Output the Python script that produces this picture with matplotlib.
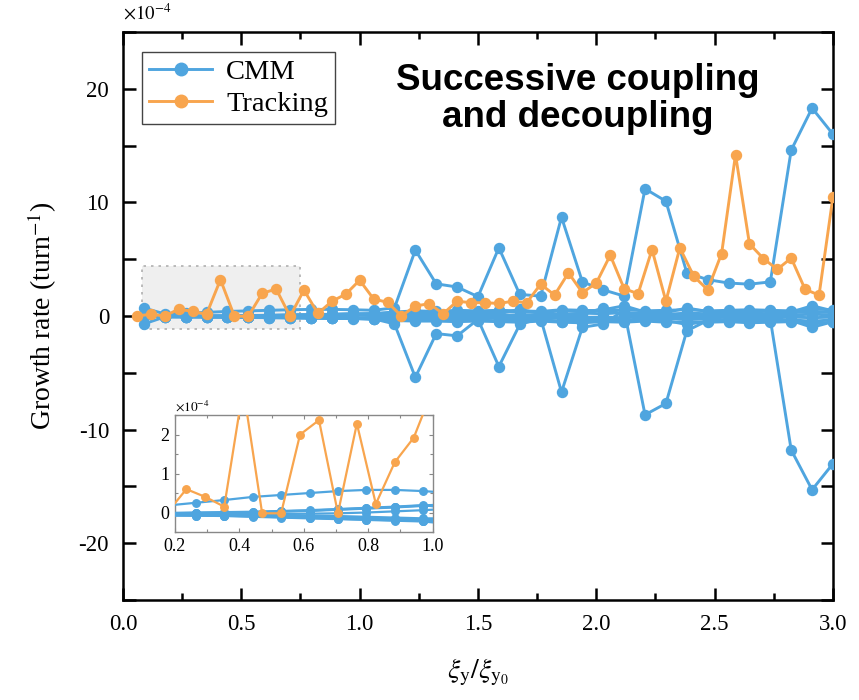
import numpy as np
import matplotlib
matplotlib.use("Agg")
import matplotlib.pyplot as plt
from matplotlib.patches import Rectangle
from matplotlib.ticker import MultipleLocator

plt.rcParams['font.family'] = ['Liberation Serif', 'DejaVu Serif']
plt.rcParams['mathtext.fontset'] = 'stix'

# CMM modes sampled at k*3/34, tracking sampled at k/17 (growth rate, x1e-4)
x_cmm = np.linspace(3 / 34, 3.0, 34)
x_trk = np.linspace(1 / 17, 3.0, 51)

cmm_upper = [0.7, 0.18, 0.25, 0.32, 0.40, 0.45, 0.50, 0.55, 0.58, 0.58, 0.55, 0.50,
             0.72, 5.8, 2.83, 2.55, 1.7, 6.0, 1.9, 1.75, 8.7, 3.0, 2.3, 1.75,
             11.2, 10.1, 3.8, 3.2, 2.9, 2.8, 3.0, 14.6, 18.3, 16.0]
cmm_lower = [-0.7, -0.08, -0.08, -0.08, -0.09, -0.10, -0.11, -0.12, -0.14, -0.16, -0.18, -0.25,
             -0.7, -5.4, -1.55, -1.75, -0.3, -4.45, -0.75, -0.2, -6.7, -1.0, -0.7, 0.5,
             -8.7, -7.7, -1.3, -0.4, -0.3, -0.3, -0.3, -11.8, -15.3, -13.0]
cmm_band = [
    [0.0, -0.02, -0.02, -0.01, 0.00, 0.02, 0.04, 0.07, 0.10, 0.13, 0.17, 0.20, 0.25, 0.30, 0.28, 0.35, 0.30,
     0.40, 0.35, 0.30, 0.45, 0.40, 0.55, 0.90, 0.35, 0.30, 0.70, 0.40, 0.35, 0.45, 0.40, 0.35, 0.90, 0.45],
    [0.0, -0.05, -0.06, -0.07, -0.08, -0.10, -0.12, -0.14, -0.17, -0.19, -0.21, -0.25, -0.30, -0.35, -0.30, -0.40, -0.35,
     -0.45, -0.40, -0.35, -0.50, -0.45, -0.40, -0.45, -0.35, -0.40, -0.75, -0.45, -0.40, -0.50, -0.45, -0.40, -1.0, -0.50],
    [0.0, -0.03, -0.04, -0.04, -0.04, -0.04, -0.03, -0.02, 0.00, 0.03, 0.06, 0.10, 0.12, 0.15, 0.10, 0.20, 0.15,
     0.18, 0.60, 0.20, 0.15, 0.25, 0.20, 0.30, 0.20, 0.15, 0.25, 0.20, 0.30, 0.25, 0.20, 0.30, 0.40, 0.30],
    [0.0, -0.04, -0.05, -0.06, -0.06, -0.07, -0.08, -0.09, -0.11, -0.13, -0.15, -0.15, -0.18, -0.20, -0.15, -0.25, -0.20,
     -0.22, -0.30, -0.25, -0.20, -0.30, -0.25, -0.35, -0.25, -0.20, -0.30, -0.25, -0.35, -0.30, -0.25, -0.35, -0.45, -0.35],
    [0.0, -0.01, 0.00, 0.01, 0.02, 0.04, 0.06, 0.09, 0.12, 0.15, 0.19, 0.10, 0.05, 0.08, 0.05, 0.10, 0.08,
     0.05, 0.10, 0.05, 0.08, 0.12, 0.70, 0.10, 0.05, 0.08, 0.12, 0.05, 0.10, 0.08, 0.05, 0.10, 0.15, 0.10],
    [0.0, -0.06, -0.07, -0.08, -0.10, -0.12, -0.14, -0.16, -0.18, -0.20, -0.22, -0.10, -0.05, -0.08, -0.05, -0.10, -0.08,
     -0.05, -0.10, -0.05, -0.08, -0.12, -0.10, -0.15, -0.05, -0.08, -0.12, -0.05, -0.10, -0.08, -0.05, -0.10, -0.15, -0.10],
    [0.0, -0.02, -0.01, 0.00, 0.01, 0.03, 0.05, 0.08, 0.11, 0.14, 0.18, 0.22, 0.35, 0.45, 0.40, 0.50, 0.45,
     0.50, 0.45, 0.40, 0.55, 0.50, 0.45, 0.55, 0.45, 0.50, 0.55, 0.45, 0.50, 0.55, 0.50, 0.45, 0.60, 0.55],
    [0.0, -0.07, -0.08, -0.09, -0.11, -0.13, -0.15, -0.17, -0.19, -0.21, -0.23, -0.30, -0.40, -0.45, -0.45, -0.50, -0.45,
     -0.50, -0.55, -0.45, -0.55, -0.60, -0.50, -0.55, -0.45, -0.55, -0.50, -0.55, -0.50, -0.60, -0.55, -0.50, -0.65, -0.55],
]
tracking = [0.0, 0.15, 0.0, 0.6, 0.4, 0.15, 3.2, -0.02, -0.02, 2.0, 2.37, -0.02, 2.28, 0.22, 1.29, 1.92, 3.15,
            1.5, 1.2, 0.0, 0.88, 1.08, 0.2, 1.3, 1.17, 1.17, 1.1, 1.3, 1.17, 2.8, 1.84, 3.8, 2.05, 2.9,
            5.35, 2.4, 1.96, 5.85, 1.3, 6.0, 3.5, 2.3, 5.5, 14.2, 6.35, 5.06, 4.1, 5.1, 2.34, 1.84, 10.5]

blue = '#4FA5DF'
orange = '#F8A54E'

fig = plt.figure(figsize=(8.59, 7.0), dpi=100)
ax = fig.add_axes([0.1432, 0.1429, 0.8265, 0.8114])


def draw_all(a, ms, lw):
    for ys in [cmm_upper, cmm_lower] + cmm_band:
        a.plot(x_cmm, ys, '-o', color=blue, ms=ms, lw=lw, zorder=3)
    a.plot(x_trk, tracking, '-o', color=orange, ms=ms, lw=lw, zorder=4)


draw_all(ax, 7.2, 2.1)
ax.add_patch(Rectangle((0.08, -1.15), 0.67, 5.55, facecolor='#efefef', edgecolor='#b0b0b0',
                       ls=(0, (1.5, 3)), lw=1.2, zorder=1))

ax.set_xlim(0, 3.0)
ax.set_ylim(-25, 25)
ax.xaxis.set_major_locator(MultipleLocator(0.5))
ax.xaxis.set_minor_locator(MultipleLocator(0.25))
ax.yaxis.set_major_locator(MultipleLocator(10))
ax.yaxis.set_minor_locator(MultipleLocator(5))
ax.tick_params(which='both', direction='in', top=True, right=True, width=1.8, labelsize=16.5, pad=10)
ax.tick_params(which='major', length=9)
ax.tick_params(which='minor', length=5)
ax.tick_params(axis='y', which='minor', length=9)
ax.set_yticklabels([f'{int(v)}' for v in ax.get_yticks()])
for s in ax.spines.values():
    s.set_linewidth(1.8)

ax.set_ylabel('Growth rate (turn$^{-1}$)', fontsize=20, labelpad=14)
ax.set_xlabel(r'$\xi_{\mathrm{y}}/\xi_{\mathrm{y}_0}$', fontsize=20, labelpad=16)
ax.text(0.0, 1.015, r'$\times10^{-4}$', transform=ax.transAxes, fontsize=13.5, ha='left', va='bottom')

ax.text(0.641, 0.882, 'Successive coupling\nand decoupling', transform=ax.transAxes,
        family='Liberation Sans', fontweight='bold', fontsize=26.5, ha='center', va='center',
        linespacing=1.05)

handles = ax.get_lines()
leg = ax.legend([handles[0], handles[-1]], ['CMM', 'Tracking'], loc='upper left',
                bbox_to_anchor=(0.027, 0.965), borderaxespad=0, fontsize=20.5, fancybox=False,
                framealpha=1, edgecolor='#444444', handlelength=2.2, markerscale=1.25,
                borderpad=0.25, labelspacing=0.2, handletextpad=0.5)
leg.get_frame().set_linewidth(1.0)

# inset zoom on the low-coupling region
axin = fig.add_axes([0.2037, 0.24, 0.300, 0.167])
draw_all(axin, 5.4, 1.6)
axin.set_xlim(0.2, 1.0)
axin.set_ylim(-0.5, 2.5)
axin.xaxis.set_major_locator(MultipleLocator(0.2))
axin.xaxis.set_minor_locator(MultipleLocator(0.1))
axin.yaxis.set_major_locator(MultipleLocator(1))
axin.yaxis.set_minor_locator(MultipleLocator(0.5))
axin.tick_params(which='both', direction='in', top=True, right=True, color='#888888',
                 width=0.8, labelsize=13, pad=4)
axin.tick_params(which='major', length=3)
axin.tick_params(which='minor', length=2)
for s in axin.spines.values():
    s.set_color('#888888')
    s.set_linewidth(1.0)
axin.text(0.0, 1.01, r'$\times10^{-4}$', transform=axin.transAxes, fontsize=9.5, ha='left', va='bottom')

fig.savefig('out.png', dpi=100)
